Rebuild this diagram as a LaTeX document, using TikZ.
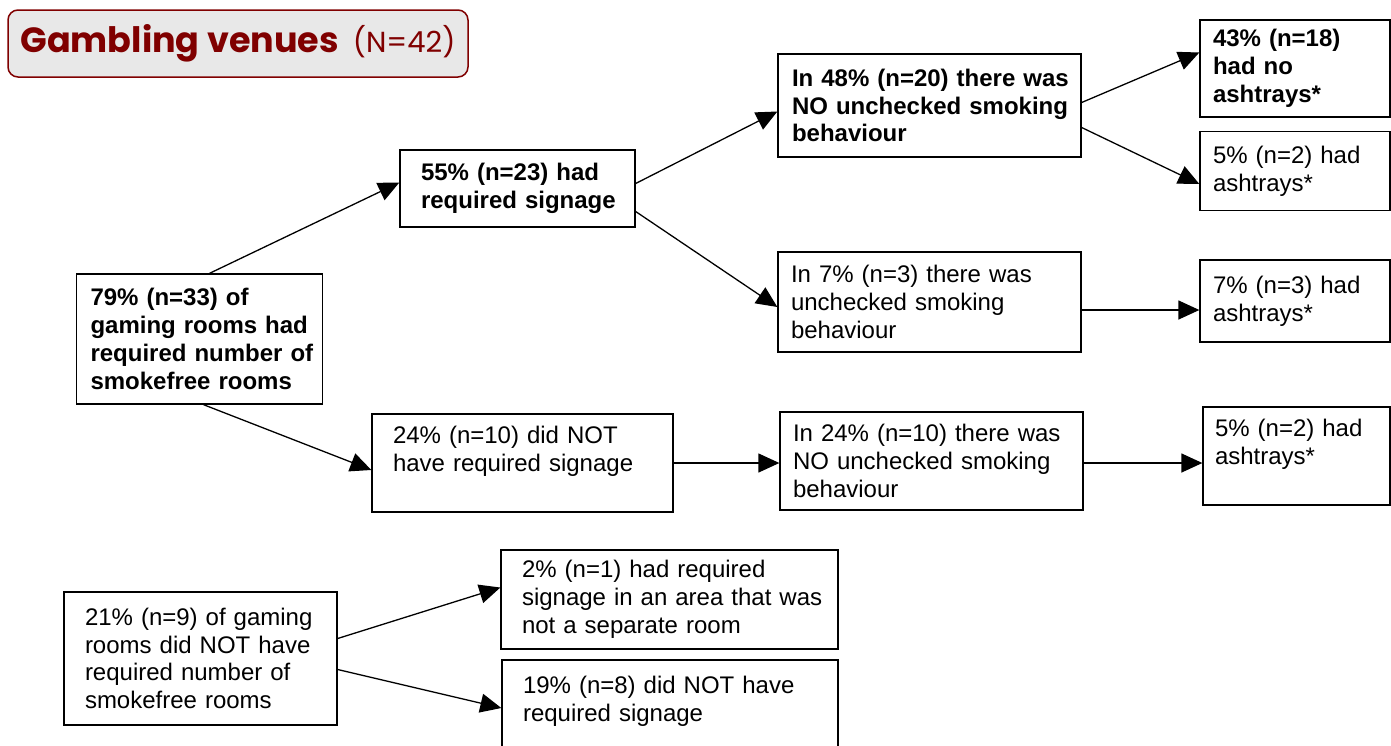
\documentclass[tikz,border=0pt]{standalone}
\usepackage{fontspec}
\setmainfont{Liberation Sans}
\newfontfamily\titlefont{Poppins}
\usepackage{tikz}
\usetikzlibrary{arrows.meta, positioning, calc}
\definecolor{titlered}{RGB}{128,0,0}
\definecolor{titlegray}{RGB}{232,232,232}

\begin{document}
\begin{tikzpicture}[
  x=1pt, y=-1pt,
  banner/.style={draw=titlered, fill=titlegray, rounded corners=10pt, line width=1.5pt, minimum width=460pt, minimum height=67pt, inner sep=0pt, text=titlered},
  box/.style={draw, line width=1.3pt, inner xsep=0pt, inner ysep=2pt, align=left, font=\fontsize{24}{27.8}\selectfont},
  strong/.style={box, font=\fontsize{24}{27.8}\selectfont\bfseries},
  pad/.style={execute at begin node={\leftskip=#1}},
  arrow/.style={-{Triangle[length=21pt,width=19pt]}, line width=1.3pt},
]
\useasboundingbox (0,0) rectangle (1391,745);

% Title
\node[banner] (title) at (238,43.5) {{\titlefont\fontsize{35}{38}\selectfont\bfseries Gambling venues}\hspace{14pt}{\titlefont\fontsize{29}{34}\selectfont (N=42)}};

% Venues with smokefree rooms
\node[strong, text width=246pt, minimum height=130pt, pad=14pt] (A) at (199.5,339) {79\% (n=33) of\\gaming rooms had\\required number of\\smokefree rooms};
\node[strong, text width=235pt, minimum height=77pt, pad=21pt] (B) at (517.5,188.5) {55\% (n=23) had\\required signage};
\node[box, text width=301pt, minimum height=98pt, pad=21pt] (H) at (522.5,463) {24\% (n=10) did NOT\\have required signage\\\mbox{}};

% Smoking behaviour
\node[strong, text width=303pt, minimum height=103pt, pad=14pt] (C) at (929.5,105.5) {In 48\% (n=20) there was\\NO unchecked smoking\\behaviour};
\node[box, text width=303pt, minimum height=100pt, pad=13pt] (F) at (929.5,302) {In 7\% (n=3) there was\\unchecked smoking\\behaviour};
\node[box, text width=303pt, minimum height=98pt, pad=13pt] (I) at (931.5,461) {In 24\% (n=10) there was\\NO unchecked smoking\\behaviour};

% Ashtrays
\node[strong, text width=190pt, minimum height=97pt, pad=13pt] (D) at (1295,68.5) {43\% (n=18)\\had no\\ashtrays*};
\node[box, text width=190pt, minimum height=79pt, pad=13pt] (E) at (1295,171) {5\% (n=2) had\\ashtrays*};
\node[box, text width=190pt, minimum height=82pt, pad=13pt] (G) at (1295,301) {7\% (n=3) had\\ashtrays*};
\node[box, text width=187pt, minimum height=98pt, pad=12pt] (J) at (1296.5,456) {5\% (n=2) had\\ashtrays*\\\mbox{}};

% Venues without smokefree rooms
\node[box, text width=273pt, minimum height=133pt, pad=21pt] (K) at (200.5,658.5) {21\% (n=9) of gaming\\rooms did NOT have\\required number of\\smokefree rooms};
\node[box, text width=337pt, minimum height=99pt, pad=21pt] (L) at (669.5,599.5) {2\% (n=1) had required\\signage in an area that was\\not a separate room};
\node[box, text width=336pt, minimum height=106pt, pad=21pt] (M) at (670,713) {19\% (n=8) did NOT have\\required signage\\\mbox{}};

% Arrows first branch
\draw[arrow] ([xshift=10pt]A.north) -- ([yshift=6pt]B.west);
\draw[arrow] ([xshift=4pt]A.south) -- ([yshift=-7pt]H.west);
\draw[arrow] ([yshift=5pt]B.east) -- ([yshift=-6pt]C.west);
\draw[arrow] ([yshift=-23pt]B.east) -- ([yshift=-5pt]F.west);
\draw[arrow] ([yshift=3pt]C.east) -- ([yshift=16pt]D.west);
\draw[arrow] ([yshift=-22pt]C.east) -- ([yshift=-13pt]E.west);
\draw[arrow] ([yshift=-8pt]F.east) -- ([yshift=-8pt]F.east -| G.west);
\draw[arrow] (H.east) -- (H.east -| I.west);
\draw[arrow] ([yshift=-2pt]I.east) -- ([yshift=-2pt]I.east -| J.west);

% Arrows second branch
\draw[arrow] ([yshift=20pt]K.east) -- ([yshift=12pt]L.west);
\draw[arrow] ([yshift=-11pt]K.east) -- ([yshift=5pt]M.west);

\end{tikzpicture}
\end{document}
